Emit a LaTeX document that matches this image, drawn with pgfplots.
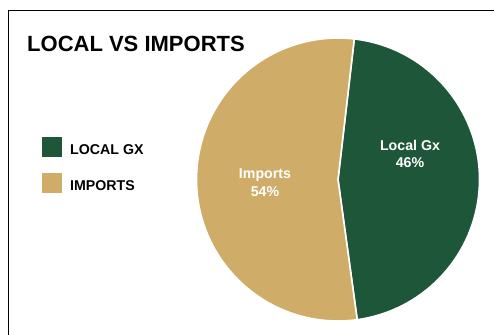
\documentclass[border=0pt]{standalone}
\usepackage{pgfplots}
\pgfplotsset{compat=1.18}
\usepackage{pgfplotstable}
\usepackage{fontspec}
\setmainfont{Liberation Sans}
\definecolor{localgx}{HTML}{1E5639}
\definecolor{importsc}{HTML}{CFAD69}
\pgfplotstableread{
label value
LocalGx 46
Imports 54
}\piedata
\begin{document}
\begin{tikzpicture}
\pgfplotstablegetelem{0}{value}\of\piedata \let\vlocal\pgfplotsretval
\pgfplotstablegetelem{1}{value}\of\piedata \let\vimports\pgfplotsretval
\pgfmathsetmacro{\cx}{338}
\pgfmathsetmacro{\cy}{154.5}
\pgfmathsetmacro{\R}{141.5}
\pgfmathsetmacro{\amid}{0.6}
\pgfmathsetmacro{\aone}{\amid+1.8*\vlocal}
\pgfmathsetmacro{\atwo}{\amid-1.8*\vlocal}
\pgfmathsetmacro{\athree}{\atwo-3.6*\vimports}
\begin{axis}[at={(0,0)}, anchor=south west, scale only axis,
  width=494pt, height=334pt, xmin=0, xmax=494, ymin=0, ymax=334,
  hide axis, clip=false,
  legend image code/.code={\fill[#1, draw=none] (0pt,-3pt) rectangle (20pt,17pt);},
  legend style={at={(axis cs:42,197)}, anchor=north west, draw=none, fill=none,
    inner sep=0pt, row sep=16pt, column sep=8pt,
    nodes={inner sep=0pt, anchor=base west},
    font=\bfseries\fontsize{14.2}{16}\selectfont},
  legend cell align=left]
\addlegendimage{fill=localgx, draw=none}
\addlegendentry{LOCAL GX}
\addlegendimage{fill=importsc, draw=none}
\addlegendentry{IMPORTS}
\fill[localgx, draw=white, line width=1.6pt] (axis cs:\cx,\cy) -- ++(\aone:\R pt)
  arc[start angle=\aone, end angle=\atwo, radius=\R pt] -- cycle;
\fill[importsc, draw=white, line width=1.6pt] (axis cs:\cx,\cy) -- ++(\atwo:\R pt)
  arc[start angle=\atwo, end angle=\athree, radius=\R pt] -- cycle;
\node[anchor=base, text=white, font=\bfseries\fontsize{14.2}{16}\selectfont] at (axis cs:410,183) {Local Gx};
\node[anchor=base, text=white, font=\bfseries\fontsize{14.2}{16}\selectfont] at (axis cs:410,166) {46\%};
\node[anchor=base, text=white, font=\bfseries\fontsize{14.2}{16}\selectfont] at (axis cs:265,155) {Imports};
\node[anchor=base, text=white, font=\bfseries\fontsize{14.2}{16}\selectfont] at (axis cs:265,137) {54\%};
\node[anchor=base west, inner sep=0pt, font=\bfseries\fontsize{22}{24}\selectfont] at (axis cs:27,282) {LOCAL VS IMPORTS};
\draw[black, line width=1pt] (axis cs:600,323.5) -- (axis cs:8,323.5) -- (axis cs:8,-50);
\end{axis}
\pgfresetboundingbox
\useasboundingbox (0,0) rectangle (494pt,334pt);
\end{tikzpicture}
\end{document}
